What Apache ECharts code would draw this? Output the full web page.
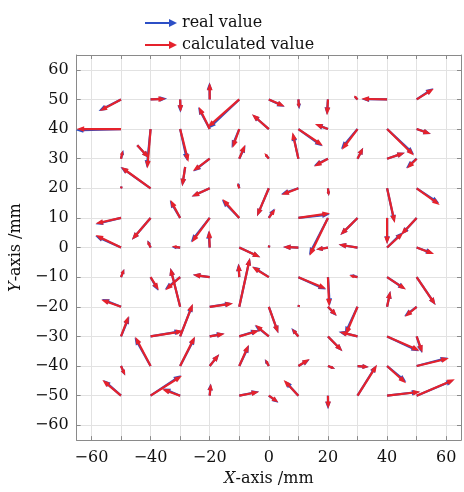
<!DOCTYPE html>
<html><head><meta charset="utf-8">
<script src="https://cdn.jsdelivr.net/npm/echarts@6/dist/echarts.min.js"></script>
<style>html,body{margin:0;padding:0;background:#fff}#c{width:464px;height:492px}</style>
</head><body><div id="c"></div>
<script>
// Arrow tails (mm)
const tailX = [-50,-40,-30,-50,-40,-30,-44.5,-50,-40,-28.3,
 -20,-20,-10,0,0,10,20,-10,-10,0,
 10,10,20,20,-20,40,30,50,30,40,
 50,30,40,50,-50,-20,-30,-50,-40,-50,
 -40,-30,-20,-50,-40,-30,-30,-20,-50,-10,
 -10,0,0,10,20,10,20,-20,-10,0,
 10,20,-10,-10,0,10,20,-20,10,0,
 30,40,50,30,40,40,50,50,30,30,
 40,50,40,-50,-40,-40,-30,-30,-50,-50,
 -40,-30,-20,-10,0,10,-20,-10,0,10,
 -20,-10,10,0,20,30,30,50,20,20,
 30,30,40,50,40,50,40,50,20];
const tailY = [50,50,50,40,40,40,34.5,30,20,27.2,
 50,40,50,40,50,50,50,40,30,30,
 30,40,40,30,30,50,50,50,40,40,
 40,30,30,30,20,20,10,10,10,0,
 0,0,10,-10,-10,-20,-10,-10,-20,20,
 10,20,10,20,20,10,10,0,0,0,
 0,0,-10,-20,-10,-10,-10,-20,-20,-20,
 20,20,20,10,10,0,10,0,0,-10,
 -10,-10,-20,-30,-40,-30,-30,-40,-40,-50,
 -50,-50,-30,-30,-30,-30,-40,-40,-40,-40,
 -50,-50,-50,-50,-50,-20,-30,-20,-30,-40,
 -40,-50,-30,-30,-40,-40,-50,-50,-20];
// Calculated displacement (mm)
const calcU = [-7.2,5.2,0.2,-15,-1.1,2.8,4,0.6,-10,-1,
 0,-3.7,-10.7,-5.7,5.4,0.2,-0.3,-2.3,2,-1.5,
 -2,8.3,-4.4,-4.7,-5.7,-8.7,-1.2,5.8,-5.3,9.1,
 4.8,1.9,6,-3.3,0.1,-6.1,-3.3,-8.6,-6.3,-8.6,
 -1.1,-2.8,-6.1,1.1,2.8,-3.3,-5,-5.7,-6.7,-0.6,
 -5.7,-4,2.2,-5.7,0.3,10.7,-6.2,-0.2,7.1,0.1,
 -5.2,-4,-0.2,3.6,-5.7,9.4,0.4,7.9,0.1,3.2,
 0.1,2.6,7.8,-5.8,0,5.5,-5.3,5.9,-6.4,-2.8,
 6.4,6.4,1.1,2.6,-5.2,11.1,4.3,5,1.4,-6.3,
 10.6,-6.1,5.1,6.8,-4.6,-2.2,3.2,3.2,-1.2,3.8,
 0.4,6.7,-5,3.2,0.1,-4,-6.1,-4,4.9,2.4,
 3.8,6.6,11,2,6.4,10.9,11.3,12.9,3];
const calcV = [-3.9,0.2,-4.2,0,-13.3,-11.1,-4.3,2.8,7.2,-6.5,
 5.6,7.5,-9.4,5,-2.4,-3.1,-5.3,-6.4,4.7,1.9,
 8.9,-5.6,1.7,-2.6,-4.2,0.2,1.3,3.6,-7,-8.9,
 -1.7,3.7,2,-3.3,0.3,-2.8,6.1,-1.9,-7.4,4.2,
 2.4,0.4,-8.3,2.8,-4.4,13.1,-4.4,0.8,2.4,1.8,
 6.4,-9.4,3,-2.2,-2.6,1.6,-12.8,5.8,-3.3,0.5,
 0.2,-0.7,4.5,16.5,3.5,-3.9,-9.9,1.1,0.3,-8.9,
 0.2,-11.7,-5.6,-5.8,-8.9,5,-5.7,-2.2,1,0.6,
 -4.2,-9.4,5.3,6.9,9.9,1.8,11,10,-3.2,5.3,
 6.7,2.2,0.9,2,3.9,2.6,4,7.2,2.3,2.4,
 4,1.3,5.3,-2.2,-4.4,-9.5,1.5,-3.4,-5,-0.9,
 -0.3,10.4,-4.8,-5.5,-5.8,2.6,1.3,5.5,-3];
// Real displacement (mm)
const realU = [-7.6,5.6,0.1,-15.3,-1.3,2.4,4,0.8,-10.2,-1,
 -0.1,-3.9,-10.4,-5.6,5.3,0.3,-0.4,-2.6,2.1,-1.3,
 -1.9,8.1,-4.2,-4.8,-5.5,-8.6,-1.1,5.6,-5.6,9.1,
 4.8,1.9,6,-3.6,0.1,-6.1,-3.5,-8.6,-6.3,-8.7,
 -1.0,-2.9,-6.4,1.1,2.6,-3.3,-5.2,-5.7,-6.5,-0.4,
 -5.9,-4,1.9,-5.9,0.3,10.6,-6.4,-0.4,7.1,0.1,
 -5.2,-4,-0.3,3.6,-5.5,9.3,0.6,7.7,0.1,3.2,
 0.1,2.5,7.6,-5.8,0,5.3,-5.1,5.6,-6.4,-2.6,
 6.2,6.4,1.1,2.8,-5.4,10.6,4.2,5,1.4,-6.0,
 10.3,-5.8,4.9,6.5,-4.8,-2.4,3.2,3.3,-1.4,3.8,
 0.3,6.7,-4.6,3.2,0,-4.3,-6.4,-4.2,4.9,2.4,
 3.8,6.4,10.7,1.8,6.5,10.6,10.9,12.5,2.9];
const realV = [-3.9,0.3,-4.5,-0.4,-13.1,-10.8,-4.3,2.9,7.2,-6.5,
 5.8,7.4,-9.8,4.9,-2.5,-3.3,-5.2,-6.3,4.5,1.7,
 8.6,-5.8,1.6,-2.4,-4.3,0.1,1.1,3.8,-6.7,-8.5,
 -1.7,3.7,2,-3.2,0.3,-2.8,5.9,-2.1,-7.4,3.9,
 2.5,0.2,-8.1,2.8,-4.6,13.1,-4.2,0.8,2.6,1.9,
 6.1,-9.4,3.2,-2.0,-2.6,1.2,-12.5,5.6,-3.3,0.5,
 0.2,-0.7,4.6,16.5,3.6,-4.2,-9.7,1.2,0.3,-8.9,
 0.2,-11.5,-5.0,-5.8,-8.7,5.2,-5.6,-2.0,1.0,0.8,
 -4.1,-9.4,5.3,6.7,9.6,1.8,10.8,9.7,-3.2,5.3,
 6.9,2.4,1.0,2.1,3.8,2.8,4,7.0,2.3,2.2,
 4.1,1.4,5.0,-2.4,-4.6,-9.2,1.6,-3.2,-5,-0.9,
 -0.3,10.3,-5.0,-5.6,-5.4,2.8,1.3,5.2,-3.1];
const xTickLabels = [-60,-40,-20,0,20,40,60];
const yTickLabels = [-60,-50,-40,-30,-20,-10,0,10,20,30,40,50,60];
const seriesNames = ['real value','calculated value'];

const SERIF = 'DejaVu Serif';
const BLUE = '#2c4fc6', RED = '#e5222c';
const fmt = v => String(v).replace('-', '\u2212');

function arrowRenderer(color){
  return function(params, api){
    const x0 = api.value(0), y0 = api.value(1), u = api.value(2), v = api.value(3);
    const p0 = api.coord([x0, y0]);
    const p1 = api.coord([x0 + u, y0 + v]);
    const dx = p1[0]-p0[0], dy = p1[1]-p0[1];
    const L = Math.hypot(dx, dy);
    if (L < 0.8) return null;
    const ux = dx/L, uy = dy/L, nx = -uy, ny = ux;
    const hl = Math.min(7.5, L*0.55), hw = Math.min(2.8, hl*0.4);
    const bx = p1[0]-ux*hl, by = p1[1]-uy*hl;
    return {type:'group', children:[
      {type:'line', shape:{x1:p0[0], y1:p0[1], x2:bx+ux*1.5, y2:by+uy*1.5},
       style:{stroke:color, lineWidth:2.2, lineCap:'butt'}},
      {type:'polygon', shape:{points:[[p1[0],p1[1]],[bx+nx*hw,by+ny*hw],[bx-nx*hw,by-ny*hw]]},
       style:{fill:color}}
    ]};
  };
}

const realData = tailX.map((x,i)=>[x, tailY[i], realU[i], realV[i]]);
const calcData = tailX.map((x,i)=>[x, tailY[i], calcU[i], calcV[i]]);

const axisGray = '#8a8a8a';
const common = {
  type:'value', min:-65, max:65, splitNumber:13, minInterval:10, maxInterval:10,
  axisLine:{show:true, onZero:false, lineStyle:{color:axisGray}},
  axisTick:{show:true, inside:true, length:4, lineStyle:{color:axisGray}}
};
const mainX = Object.assign({}, common, {
  position:'bottom',
  splitLine:{show:true, lineStyle:{color:'#e2e2e2'}},
  axisLabel:{show:true, showMinLabel:true, showMaxLabel:true, hideOverlap:false, margin:10, color:'#111', fontFamily:SERIF, fontSize:16,
    formatter: v => xTickLabels.indexOf(v) >= 0 ? fmt(v) : ''},
  name:'{i|X}-axis /mm', nameLocation:'middle', nameGap:28,
  nameTextStyle:{color:'#111', fontFamily:SERIF, fontSize:16, verticalAlign:'top',
    rich:{i:{fontStyle:'italic', fontFamily:SERIF, fontSize:16, color:'#111'}}}
});
const mainY = Object.assign({}, common, {
  position:'left',
  splitLine:{show:true, lineStyle:{color:'#e2e2e2'}},
  axisLabel:{show:true, showMinLabel:true, showMaxLabel:true, hideOverlap:false, margin:8, color:'#111', fontFamily:SERIF, fontSize:16,
    formatter: v => yTickLabels.indexOf(v) >= 0 ? fmt(v) : ''},
  name:'{i|Y}-axis /mm', nameLocation:'middle', nameGap:46,
  nameTextStyle:{color:'#111', fontFamily:SERIF, fontSize:16,
    rich:{i:{fontStyle:'italic', fontFamily:SERIF, fontSize:16, color:'#111'}}}
});
const mirror = (pos) => Object.assign({}, common, {
  position:pos, splitLine:{show:false}, axisLabel:{show:false}
});

const chart = echarts.init(document.getElementById('c'), null, {renderer:'canvas'});
chart.setOption({
  animation:false,
  backgroundColor:'#fff',
  grid:{left:72, right:2, top:55, bottom:47, containLabel:false},
  legend:{
    data:seriesNames, orient:'vertical', left:140, top:10, itemGap:6,
    itemWidth:32, itemHeight:8,
    icon:'path://M0,3L24,3L24,0L32,4L24,8L24,5L0,5Z',
    textStyle:{fontFamily:SERIF, fontSize:16, color:'#111'}
  },
  xAxis:[mainX, mirror('top')],
  yAxis:[mainY, mirror('right')],
  series:[
    {name:seriesNames[0], type:'custom', xAxisIndex:0, yAxisIndex:0, itemStyle:{color:BLUE},
     renderItem:arrowRenderer(BLUE), encode:{x:0, y:1}, data:realData, clip:false, z:2},
    {name:seriesNames[1], type:'custom', xAxisIndex:0, yAxisIndex:0, itemStyle:{color:RED},
     renderItem:arrowRenderer(RED), encode:{x:0, y:1}, data:calcData, clip:false, z:3}
  ]
});
</script></body></html>
